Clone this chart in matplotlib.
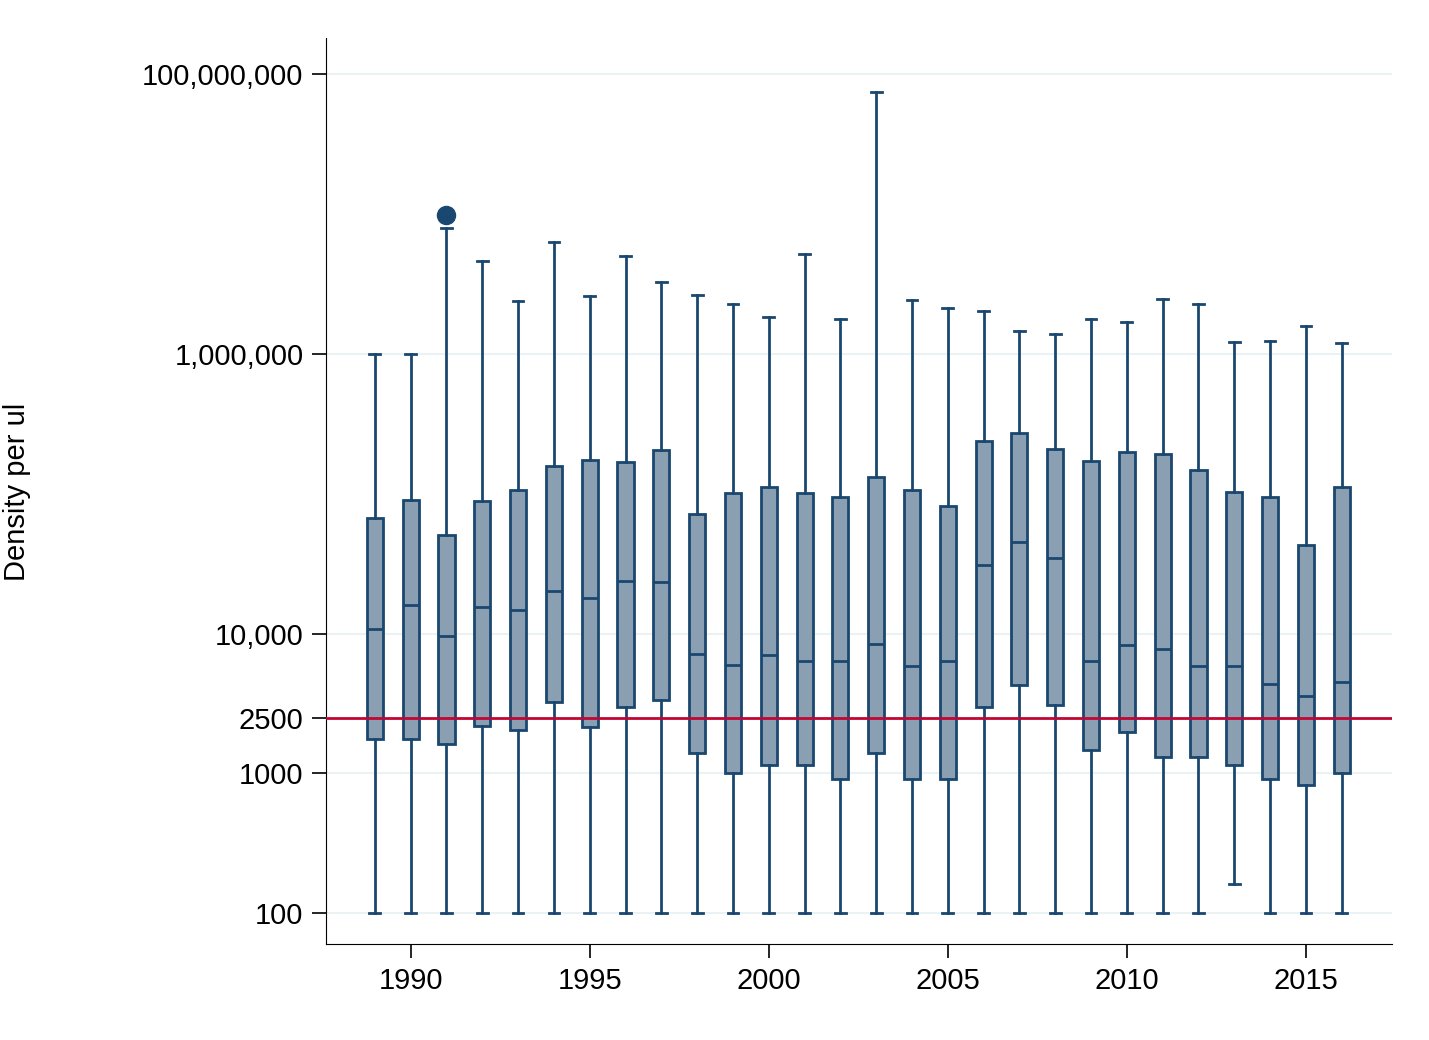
import matplotlib
matplotlib.use("Agg")
from matplotlib import pyplot as plt
from matplotlib.ticker import FixedLocator, NullLocator

years = list(range(1989, 2017))
whislo = [100] * 28
whislo[24] = 161
q1 = [1770, 1770, 1630, 2200, 2050, 3260, 2160, 3000, 3370, 1400, 1000, 1150, 1150, 915,
      1400, 915, 915, 3000, 4320, 3100, 1480, 1990, 1320, 1320, 1150, 915, 828, 1000]
med = [10700, 15900, 9550, 15400, 14700, 20100, 17900, 23700, 23300, 7100, 6010, 6980, 6420, 6320,
       8370, 5910, 6320, 30800, 45100, 34600, 6320, 8230, 7700, 5820, 5910, 4390, 3600, 4470]
q3 = [67000, 90000, 50600, 88700, 106000, 158000, 175000, 169000, 206000, 71600, 101000, 112000,
      101000, 94800, 132000, 106000, 81700, 239000, 273000, 209000, 172000, 199000, 193000,
      148000, 103000, 94800, 42900, 112000]
whishi = [1.0e6, 1.0e6, 7.9e6, 4.6e6, 2.38e6, 6.3e6, 2.58e6, 5.0e6, 3.25e6, 2.62e6, 2.26e6, 1.85e6,
          5.16e6, 1.77e6, 7.4e7, 2.42e6, 2.12e6, 2.01e6, 1.45e6, 1.38e6, 1.79e6, 1.68e6, 2.46e6,
          2.26e6, 1.21e6, 1.24e6, 1.57e6, 1.19e6]
fliers = {1991: [9.8e6]}
threshold = 2500

navy = "#1a476f"
fill = "#8b9fb3"

plt.rcParams['font.family'] = ['Liberation Sans', 'DejaVu Sans']
fig = plt.figure(figsize=(14.29, 10.4), dpi=100)
ax = fig.add_axes([0.228, 0.092, 0.746, 0.871])

stats = []
for i, y in enumerate(years):
    stats.append(dict(whislo=whislo[i], q1=q1[i], med=med[i], q3=q3[i], whishi=whishi[i],
                      fliers=fliers.get(y, [])))

ax.set_yscale('log')
ax.bxp(stats, positions=years, widths=0.45, patch_artist=True,
       boxprops=dict(facecolor=fill, edgecolor=navy, linewidth=2),
       medianprops=dict(color=navy, linewidth=2),
       whiskerprops=dict(color=navy, linewidth=2),
       capprops=dict(color=navy, linewidth=2),
       flierprops=dict(marker='o', markerfacecolor=navy, markeredgecolor=navy, markersize=13),
       capwidths=0.3, zorder=3)

ax.axhline(threshold, color="#c10534", linewidth=2, zorder=4)

yt = [100, 1000, 2500, 10000, 1000000, 100000000]
ax.yaxis.set_major_locator(FixedLocator(yt))
ax.yaxis.set_minor_locator(NullLocator())
ax.set_yticklabels(["100", "1000", "2500", "10,000", "1,000,000", "100,000,000"])
for v in [100, 1000, 10000, 1000000, 100000000]:
    ax.axhline(v, color="#eaf2f3", linewidth=1.5, zorder=0)

ax.set_xticks([1990, 1995, 2000, 2005, 2010, 2015])
ax.set_xticklabels(["1990", "1995", "2000", "2005", "2010", "2015"])
ax.set_xlim(1987.63, 2017.4)
ax.set_ylim(60, 1.8e8)

ax.tick_params(labelsize=21, length=10, width=1.2, pad=6)
ax.spines['top'].set_visible(False)
ax.spines['right'].set_visible(False)
ax.set_ylabel("Density per ul", fontsize=21, labelpad=80)

fig.savefig("out.png", dpi=100)
